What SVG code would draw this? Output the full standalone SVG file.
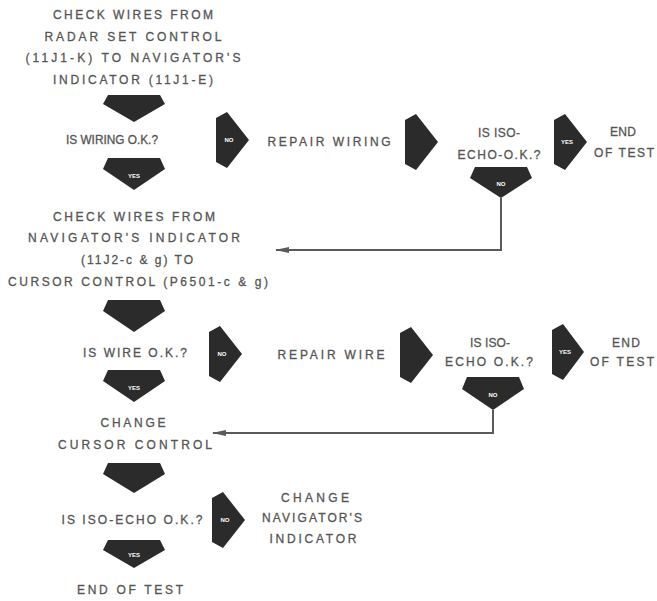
<svg xmlns="http://www.w3.org/2000/svg" width="657" height="601" viewBox="0 0 657 601">
<defs>
<style>
.t{font-family:"Liberation Sans",Arial,sans-serif;font-size:12px;fill:#555555;text-anchor:middle;stroke:#555555;stroke-width:0.3;}
.a{fill:#2b2b2b;}
.l{font-family:"Liberation Sans",Arial,sans-serif;font-size:6px;font-weight:bold;fill:#ffffff;text-anchor:middle;}
.c{fill:none;stroke:#5a5a5a;stroke-width:2;}
</style>
<marker id="ah" markerUnits="userSpaceOnUse" markerWidth="14" markerHeight="6" refX="13" refY="3" orient="auto">
<path d="M0,0 L14,3 L0,6 z" fill="#5a5a5a"/>
</marker>
</defs>
<rect width="657" height="601" fill="#ffffff"/>

<g id="n-check1">
<text class="t" x="133" y="19" textLength="160" lengthAdjust="spacing">CHECK WIRES FROM</text>
<text class="t" x="133" y="41" textLength="177" lengthAdjust="spacing">RADAR SET CONTROL</text>
<text class="t" x="133" y="62" textLength="215" lengthAdjust="spacing">(11J1-K) TO NAVIGATOR'S</text>
<text class="t" x="133" y="84" textLength="160" lengthAdjust="spacing">INDICATOR (11J1-E)</text>
</g>
<g id="n-wiring-ok">
<text class="t" x="112" y="144" textLength="92" lengthAdjust="spacingAndGlyphs">IS WIRING O.K.?</text>
</g>
<g id="n-repair-wiring">
<text class="t" x="329" y="146" textLength="123" lengthAdjust="spacing">REPAIR WIRING</text>
</g>
<g id="n-iso1">
<text class="t" x="499" y="137" textLength="42" lengthAdjust="spacing">IS ISO-</text>
<text class="t" x="499" y="159" textLength="83" lengthAdjust="spacing">ECHO-O.K.?</text>
</g>
<g id="n-end1">
<text class="t" x="623" y="136" textLength="26" lengthAdjust="spacing">END</text>
<text class="t" x="624" y="157" textLength="60" lengthAdjust="spacing">OF TEST</text>
</g>
<g id="n-check2">
<text class="t" x="134" y="221" textLength="162" lengthAdjust="spacing">CHECK WIRES FROM</text>
<text class="t" x="134" y="242" textLength="212" lengthAdjust="spacing">NAVIGATOR'S INDICATOR</text>
<text class="t" x="137" y="264" textLength="112" lengthAdjust="spacing">(11J2-c &amp; g) TO</text>
<text class="t" x="138" y="286" textLength="260" lengthAdjust="spacing">CURSOR CONTROL (P6501-c &amp; g)</text>
</g>
<g id="n-wire-ok">
<text class="t" x="135" y="357" textLength="104" lengthAdjust="spacing">IS WIRE O.K.?</text>
</g>
<g id="n-repair-wire">
<text class="t" x="331" y="359" textLength="107" lengthAdjust="spacing">REPAIR WIRE</text>
</g>
<g id="n-iso2">
<text class="t" x="490" y="347" textLength="40" lengthAdjust="spacing">IS ISO-</text>
<text class="t" x="489" y="366" textLength="88" lengthAdjust="spacing">ECHO O.K.?</text>
</g>
<g id="n-end2">
<text class="t" x="626" y="347" textLength="28" lengthAdjust="spacing">END</text>
<text class="t" x="622" y="366" textLength="64" lengthAdjust="spacing">OF TEST</text>
</g>
<g id="n-change-cursor">
<text class="t" x="133" y="427" textLength="65" lengthAdjust="spacing">CHANGE</text>
<text class="t" x="135" y="449" textLength="154" lengthAdjust="spacing">CURSOR CONTROL</text>
</g>
<g id="n-iso3">
<text class="t" x="132" y="524" textLength="141" lengthAdjust="spacing">IS ISO-ECHO O.K.?</text>
</g>
<g id="n-change-nav">
<text class="t" x="315" y="502" textLength="68" lengthAdjust="spacing">CHANGE</text>
<text class="t" x="312" y="522" textLength="100" lengthAdjust="spacing">NAVIGATOR'S</text>
<text class="t" x="313" y="543" textLength="87" lengthAdjust="spacing">INDICATOR</text>
</g>
<g id="n-end3">
<text class="t" x="130" y="594" textLength="106" lengthAdjust="spacing">END OF TEST</text>
</g>

<g id="flow-arrows">
<g id="d1"><polygon class="a" points="108,95 160,95 165,104 134,122 103,104"/></g>
<g id="d2"><polygon class="a" points="108,158 160,158 165,169 134,190 103,169"/><text class="l" x="134" y="178">YES</text></g>
<g id="d3"><polygon class="a" points="108,300 160,300 165,311 134,332 103,311"/></g>
<g id="d4"><polygon class="a" points="108,370 160,370 165,381 134,402 103,381"/><text class="l" x="134" y="390">YES</text></g>
<g id="d5"><polygon class="a" points="108,463 160,463 165,474 134,493 103,474"/></g>
<g id="d6"><polygon class="a" points="108,540 160,540 165,550 134,568 103,550"/><text class="l" x="134" y="557">YES</text></g>
<g id="n1"><polygon class="a" points="475,167 527,167 532,178 501,198 470,178"/><text class="l" x="501" y="186">NO</text></g>
<g id="n2"><polygon class="a" points="467,377 519,377 524,389 493,410 462,389"/><text class="l" x="493" y="397">NO</text></g>
<g id="r1"><polygon class="a" points="216,118 227,112 249,140 227,168 216,162"/><text class="l" x="229" y="142">NO</text></g>
<g id="r2"><polygon class="a" points="405,120 416,114 438,142 416,170 405,164"/></g>
<g id="r3"><polygon class="a" points="554,120 565,114 587,142 565,170 554,164"/><text class="l" x="567" y="144">YES</text></g>
<g id="r4"><polygon class="a" points="209,332 220,326 242,354 220,382 209,376"/><text class="l" x="222" y="356">NO</text></g>
<g id="r5"><polygon class="a" points="400,333 411,327 433,355 411,383 400,377"/></g>
<g id="r6"><polygon class="a" points="552,330 563,324 584,352 563,380 552,374"/><text class="l" x="565" y="354">YES</text></g>
<g id="r7"><polygon class="a" points="212,498 223,492 245,520 223,548 212,542"/><text class="l" x="225" y="522">NO</text></g>
</g>

<g id="connectors">
<polyline class="c" points="501,198 501,250 276,250" marker-end="url(#ah)"/>
<polyline class="c" points="493,410 493,433 213,433" marker-end="url(#ah)"/>
</g>
</svg>
